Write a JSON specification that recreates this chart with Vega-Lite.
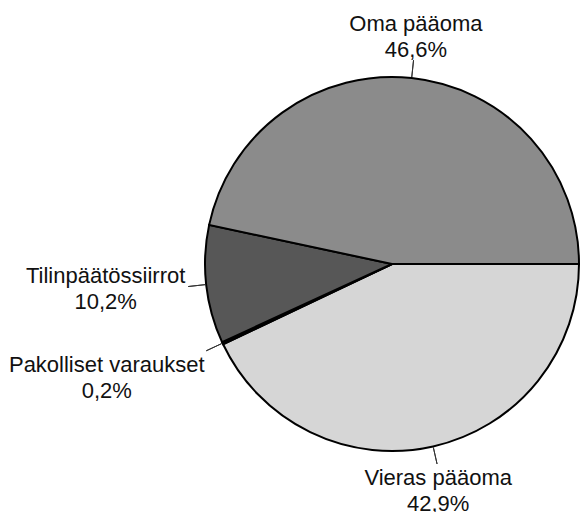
{
  "$schema": "https://vega.github.io/schema/vega-lite/v6.json",
  "width": 376,
  "height": 376,
  "autosize": {"type": "none"},
  "padding": {"left": 204, "top": 76, "right": 0, "bottom": 60},
  "background": "white",
  "config": {"view": {"stroke": null}},
  "data": {"values": [
    {"k": "Vieras pääoma", "v": 42.9},
    {"k": "Pakolliset varaukset", "v": 0.2},
    {"k": "Tilinpäätössiirrot", "v": 10.2},
    {"k": "Oma pääoma", "v": 46.6}
  ]},
  "transform": [
    {"window": [{"op": "row_number", "as": "nr"}]},
    {"calculate": "[datum.k, replace(format(datum.v, '.1f'), '.', ',') + '%']", "as": "lbl"}
  ],
  "encoding": {
    "theta": {"field": "v", "type": "quantitative", "stack": true, "scale": {"range": [1.5707963, 7.8539816]}},
    "order": {"field": "nr", "type": "quantitative", "sort": "ascending"},
    "detail": {"field": "k", "type": "nominal"}
  },
  "layer": [
    {
      "mark": {"type": "arc", "outerRadius": 187, "stroke": "black", "strokeWidth": 2, "strokeJoin": "miter"},
      "encoding": {
        "color": {"field": "k", "type": "nominal", "legend": null,
          "scale": {"domain": ["Oma pääoma", "Tilinpäätössiirrot", "Pakolliset varaukset", "Vieras pääoma"],
                    "range": ["#8b8b8b", "#575757", "#111111", "#d6d6d6"]}}
      }
    },
    {
      "mark": {"type": "arc", "innerRadius": 188, "outerRadius": 205, "padAngle": 3.2,
        "fill": null, "fillOpacity": 0, "stroke": "#333333", "strokeWidth": 1}
    },
    {
      "mark": {"type": "text", "font": "Liberation Sans", "fontSize": 22, "lineHeight": 26,
        "align": "center", "baseline": "alphabetic", "color": "#111111",
        "radius": {"expr": "datum.k == 'Oma pääoma' ? 234 : datum.k == 'Vieras pääoma' ? 226 : datum.k == 'Tilinpäätössiirrot' ? 287 : 305"},
        "thetaOffset": {"expr": "datum.k == 'Vieras pääoma' ? 0.016 : datum.k == 'Tilinpäätössiirrot' ? 0.044 : datum.k == 'Pakolliset varaukset' ? 0.075 : -0.003"}},
      "encoding": {"text": {"field": "lbl"}}
    }
  ]
}
